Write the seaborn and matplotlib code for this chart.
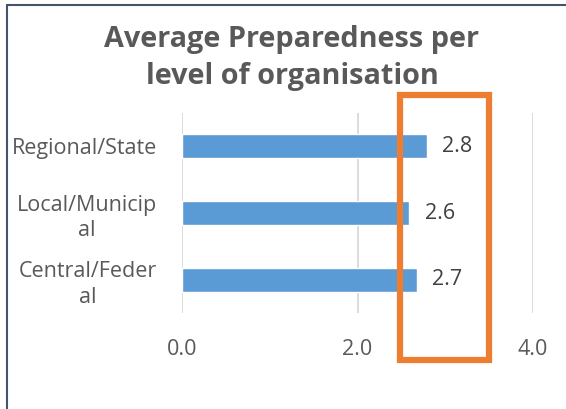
import matplotlib
matplotlib.use("Agg")
import matplotlib.pyplot as plt
import seaborn as sns
import pandas as pd
from matplotlib.patches import Rectangle
from matplotlib.lines import Line2D

categories = ["Regional/State", "Local/Municipal", "Central/Federal"]
tick_labels = ["Regional/State", "Local/Municip\nal", "Central/Feder\nal"]
values = [2.79, 2.59, 2.68]
value_labels = ["2.8", "2.6", "2.7"]
x_ticks = [0.0, 2.0, 4.0]

sns.set_theme(style="white")
plt.rcParams['font.family'] = ['Open Sans', 'DejaVu Sans']

W, H = 566, 409
fig = plt.figure(figsize=(W / 100, H / 100), dpi=100)
ax = fig.add_axes([182 / W, 1 - 313 / H, (533 - 182) / W, 200 / H])

df = pd.DataFrame({"cat": categories, "val": values})
sns.barplot(data=df, x="val", y="cat", orient="h", color="#5B9BD5",
            saturation=1, width=0.36, ax=ax)

ax.set_xlim(0, 4)
ax.set_xticks(x_ticks)
ax.set_xticklabels([f"{t:.1f}" for t in x_ticks])
ax.set_yticks(range(len(categories)))
ax.set_yticklabels(tick_labels, multialignment="center", linespacing=1.3)
ax.set_xlabel("")
ax.set_ylabel("")
ax.grid(axis="x", color="#D9D9D9", linewidth=1.3)
ax.set_axisbelow(True)
for s in ax.spines.values():
    s.set_visible(False)
ax.tick_params(axis="x", length=0, pad=19, labelsize=15.5, labelcolor="#595959")
ax.tick_params(axis="y", length=0, pad=18, labelsize=15.5, labelcolor="#595959")

for i, (v, lab) in enumerate(zip(values, value_labels)):
    ax.annotate(lab, xy=(v, i), xytext=(11, 0), textcoords="offset points",
                ha="left", va="center", fontsize=15.5, color="#404040")

fig.text(292 / W, 1 - 58 / H, "Average Preparedness per\nlevel of organisation",
         ha="center", va="center", fontsize=20.8, fontweight="bold",
         color="#595959", linespacing=1.4)

# highlight rectangle
fig.add_artist(Rectangle((400 / W, 1 - 360 / H), 89 / W, 265 / H,
                         transform=fig.transFigure, fill=False,
                         edgecolor="#ED7D31", linewidth=4.5))

# figure border (left and top)
fig.add_artist(Line2D([7 / W, 7 / W], [0, 1 - 5 / H], transform=fig.transFigure,
                      color="#44546A", linewidth=1.5))
fig.add_artist(Line2D([7 / W, 1], [1 - 5 / H, 1 - 5 / H], transform=fig.transFigure,
                      color="#44546A", linewidth=1.5))

fig.savefig("out.png", dpi=100)
